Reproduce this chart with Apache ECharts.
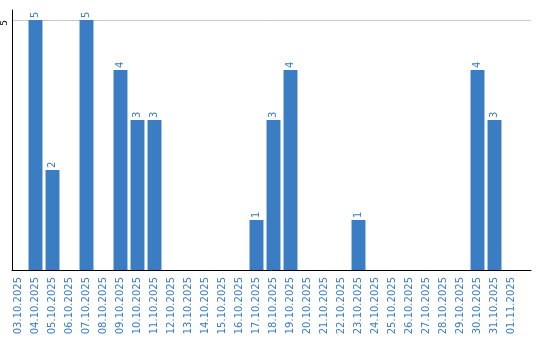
<!DOCTYPE html>
<html>
<head>
<meta charset="utf-8">
<script src="https://cdn.jsdelivr.net/npm/echarts@6/dist/echarts.min.js"></script>
<style>html,body{margin:0;padding:0;background:#fff;}#c{width:540px;height:340px;}</style>
</head>
<body>
<div id="c"></div>
<script>
var categories = ['03.10.2025','04.10.2025','05.10.2025','06.10.2025','07.10.2025','08.10.2025','09.10.2025','10.10.2025','11.10.2025','12.10.2025','13.10.2025','14.10.2025','15.10.2025','16.10.2025','17.10.2025','18.10.2025','19.10.2025','20.10.2025','21.10.2025','22.10.2025','23.10.2025','24.10.2025','25.10.2025','26.10.2025','27.10.2025','28.10.2025','29.10.2025','30.10.2025','31.10.2025','01.11.2025'];
var values = [0,5,2,0,5,0,4,3,3,0,0,0,0,0,1,3,4,0,0,0,1,0,0,0,0,0,0,4,3,0];
var yTicks = [5];
var yMax = 5.2;

var blue = '#3b7dc3';
var chart = echarts.init(document.getElementById('c'));
chart.setOption({
  animation: false,
  backgroundColor: '#fff',
  grid: [
    {left: 10, top: 10, width: 510, height: 260, containLabel: false},
    {left: 10, top: 10, width: 521, height: 260, containLabel: false}
  ],
  xAxis: [
    {
      type: 'category', gridIndex: 0, data: categories,
      axisLine: {show: false}, axisTick: {show: false},
      axisLabel: {interval: 0, rotate: 90, margin: 7, color: blue, fontFamily: 'DejaVu Sans', fontSize: 10}
    },
    {
      type: 'value', gridIndex: 1, min: 0, max: 1,
      axisLine: {show: true, onZero: false, lineStyle: {color: '#000', width: 1}},
      axisTick: {show: false}, axisLabel: {show: false}, splitLine: {show: false}
    }
  ],
  yAxis: [
    {
      type: 'value', gridIndex: 0, min: 0, max: yMax, interval: 5,
      axisLine: {show: false}, axisTick: {show: false}, axisLabel: {show: false}, splitLine: {show: false}
    },
    {
      type: 'value', gridIndex: 1, min: 0, max: yMax, interval: 5,
      axisLine: {show: true, lineStyle: {color: '#000', width: 1}},
      axisTick: {show: false},
      axisLabel: {
        rotate: 90, margin: 3, color: '#000', fontFamily: 'DejaVu Sans', fontSize: 9,
        showMaxLabel: false, padding: [0, 6, 0, 0],
        formatter: function (v) { return yTicks.indexOf(v) >= 0 ? String(v) : ''; }
      },
      splitLine: {show: true, showMaxLine: false, showMinLine: false, lineStyle: {color: '#c8c8c8', width: 1}}
    }
  ],
  series: [{
    type: 'bar', xAxisIndex: 0, yAxisIndex: 0,
    data: values.map(function (v) { return v === 0 ? null : v; }),
    barCategoryGap: '18%',
    itemStyle: {color: blue},
    label: {
      show: true, position: 'top', rotate: 90, distance: 2,
      align: 'left', verticalAlign: 'middle',
      color: blue, fontFamily: 'DejaVu Sans', fontSize: 10
    }
  }]
});
</script>
</body>
</html>
